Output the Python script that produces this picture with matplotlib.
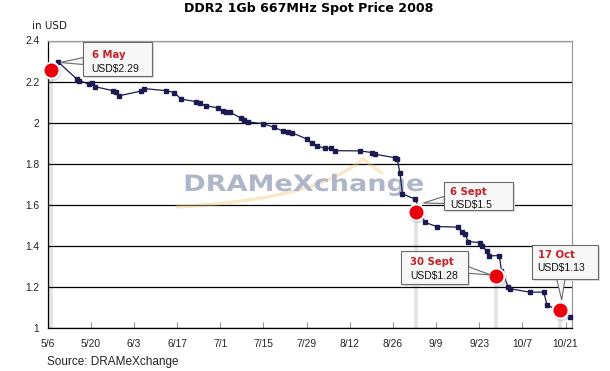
import matplotlib
matplotlib.use("Agg")
import matplotlib.pyplot as plt
from matplotlib.patches import Polygon, Rectangle, PathPatch
from matplotlib.transforms import Affine2D, offset_copy
from matplotlib.textpath import TextPath
from matplotlib.font_manager import FontProperties
from matplotlib.path import Path

# ---------------- data ----------------
title = "DDR2 1Gb 667MHz Spot Price 2008"
unit_label = "in USD"
source_label = "Source: DRAMeXchange"
watermark = "DRAMeXchange"

# days after 2008-05-06
days = [3.3, 9.4, 10.3, 13.5, 14.3, 15.2, 21.1, 22.2, 23.1, 30.3, 31.3, 38.4,
        41.1, 43.2, 48.0, 49.4, 51.2, 55.3, 56.8, 58.0, 59.1, 62.6, 63.8, 65.0,
        70.0, 73.3, 76.3, 78.0, 79.2, 84.0, 85.6, 87.3, 89.9, 92.0, 93.2, 101.3,
        105.1, 106.2, 112.6, 113.4, 114.3, 115.1, 119.2, 122.3, 126.2, 133.2,
        134.3, 135.4, 136.4, 140.2, 140.8, 142.4, 143.1, 146.5, 147.2, 149.4,
        150.1, 156.4, 160.9, 162.0, 169.4]
price = [2.297, 2.213, 2.205, 2.187, 2.192, 2.176, 2.156, 2.148, 2.131, 2.154,
         2.166, 2.156, 2.147, 2.115, 2.103, 2.095, 2.083, 2.072, 2.057, 2.052,
         2.052, 2.023, 2.012, 2.004, 1.995, 1.978, 1.960, 1.953, 1.952, 1.921,
         1.900, 1.887, 1.876, 1.876, 1.864, 1.863, 1.855, 1.847, 1.830, 1.822,
         1.754, 1.654, 1.628, 1.516, 1.495, 1.492, 1.468, 1.458, 1.422, 1.417,
         1.401, 1.377, 1.352, 1.354, 1.280, 1.203, 1.192, 1.176, 1.176, 1.114,
         1.057]

tick_days = [0, 14, 28, 42, 56, 70, 84, 98, 112, 126, 140, 154, 168]
tick_labels = ["5/6", "5/20", "6/3", "6/17", "7/1", "7/15", "7/29", "8/12",
               "8/26", "9/9", "9/23", "10/7", "10/21"]
y_ticks = [1.0, 1.2, 1.4, 1.6, 1.8, 2.0, 2.2, 2.4]
y_tick_labels = ["1", "1.2", "1.4", "1.6", "1.8", "2", "2.2", "2.4"]

callout_dates = ["6 May", "6 Sept", "30 Sept", "17 Oct"]
callout_values = ["USD$2.29", "USD$1.5", "USD$1.28", "USD$1.13"]
dot_days = [1.1, 119.5, 145.6, 166.2]
dot_price = [2.255, 1.565, 1.252, 1.087]

# ---------------- figure ----------------
W, H = 610, 371
fig = plt.figure(figsize=(W / 100, H / 100), dpi=100)
fig.patch.set_facecolor("white")
# pixel coords measured from top-left
tpx = Affine2D().scale(1, -1).translate(0, H)

L, R, T, B = 47.7, 571.7, 40.5, 328.3
ax = fig.add_axes([L / W, 1 - B / H, (R - L) / W, (B - T) / H])
ax.set_xlim(0, 170)
ax.set_ylim(1.0, 2.4)

ax.set_yticks(y_ticks)
ax.set_yticklabels(y_tick_labels)
ax.set_xticks(tick_days)
ax.set_xticklabels(tick_labels)
ax.set_axisbelow(True)
ax.yaxis.grid(True, color="black", lw=0.9)
for s in ["top", "right"]:
    ax.spines[s].set_color("#9a9a9a")
    ax.spines[s].set_linewidth(0.9)
for s in ["left", "bottom"]:
    ax.spines[s].set_color("black")
    ax.spines[s].set_linewidth(0.9)

ax.tick_params(axis="y", length=0, pad=6, labelcolor="#222222")
ax.tick_params(axis="x", direction="in", length=4, color="#999999", pad=8,
               labelcolor="#222222")
for lbl in ax.get_xticklabels() + ax.get_yticklabels():
    lbl.set_fontfamily("Liberation Sans")
    lbl.set_fontsize(7.4)

# drop lines under highlight dots
for d, p in zip(dot_days, dot_price):
    ax.plot([d, d], [1.0, p], color="#e4e4e4", lw=2.8, zorder=0.3,
            solid_capstyle="butt")

# watermark
fp = FontProperties(family="DejaVu Sans", weight="bold")
tp = TextPath((0, 0), watermark, size=20, prop=fp)
ext = tp.get_extents()
capH = TextPath((0, 0), "D", size=20, prop=fp).get_extents().height
sx = (423 - 185.7) / ext.width
sy = 16.5 / capH
wtr = Affine2D().translate(-ext.x0, 0).scale(sx, sy).translate(185.7, H - 191.0)
# swoosh
sw = Path([(176, 207), (240, 203), (320, 195), (363, 159), (383, 174)],
          [Path.MOVETO, Path.CURVE4, Path.CURVE4, Path.CURVE4, Path.LINETO])
ax.add_patch(PathPatch(sw, transform=tpx, facecolor="none", edgecolor="#f0c678",
                       lw=2.5, alpha=0.4, zorder=0.6, clip_on=False))
ax.add_patch(PathPatch(tp, transform=wtr, facecolor="#b0b6c9", edgecolor="none",
                       zorder=0.7, clip_on=False))

# price line
ax.plot(days, price, color="#1b1b52", lw=0.9, marker="s", ms=2.7,
        mfc="#1b1b52", mec="#1b1b52", zorder=3, clip_on=False)

# highlight dots
shadow_tr = offset_copy(ax.transData, fig=fig, x=1.2, y=-1.8, units="dots")
ax.plot(dot_days, dot_price, "o", ms=12.5, color="#9a9a9a", alpha=0.35,
        transform=shadow_tr, zorder=4, clip_on=False, mew=0)
ax.plot(dot_days, dot_price, "o", ms=11.5, mfc="#e8000b", mec="white",
        mew=1.4, zorder=5, clip_on=False, linestyle="none")

# callouts (pixel layout)
boxes = [(83.3, 42.3, 151.7, 76.0), (444.3, 182.0, 513.3, 210.3),
         (401.0, 250.5, 468.3, 284.3), (532.3, 245.0, 598.3, 279.0)]
tails = [[(83.3, 57.5), (60.0, 62.5), (83.3, 64.5)],
         [(444.3, 196.3), (423.5, 203.0), (444.3, 203.5)],
         [(468.3, 266.7), (491.0, 275.0), (468.3, 273.3)],
         [(556.7, 279.0), (561.7, 300.0), (565.0, 279.0)]]
text_x = [91.7, 450.0, 410.0, 537.7]
text_y1 = [55.0, 192.0, 261.7, 255.0]
text_y2 = [69.2, 205.3, 276.0, 268.3]

for i in range(4):
    x0, y0, x1, y1 = boxes[i]
    fig.patches.append(Rectangle((x0 + 2, y0 + 2), x1 - x0, y1 - y0,
                                 transform=tpx, facecolor="#dedede",
                                 edgecolor="none", zorder=6, figure=fig))
    fig.patches.append(Polygon(tails[i], closed=True, transform=tpx,
                               facecolor="#f7f7f7", edgecolor="#6a6a6a",
                               lw=0.8, zorder=7, figure=fig))
    fig.patches.append(Rectangle((x0, y0), x1 - x0, y1 - y0, transform=tpx,
                                 facecolor="#f7f7f7", edgecolor="#6a6a6a",
                                 lw=0.8, zorder=8, figure=fig))
    fig.text(text_x[i], text_y1[i], callout_dates[i], transform=tpx,
             family="DejaVu Sans", weight="bold", size=7.3, color="#c0232b",
             ha="left", va="center", zorder=9)
    fig.text(text_x[i], text_y2[i], callout_values[i], transform=tpx,
             family="Liberation Sans", size=7.5, color="#111111",
             ha="left", va="center", zorder=9)

# texts
fig.text(309, 8.5, title, transform=tpx, family="DejaVu Sans", weight="bold",
         size=9.1, color="black", ha="center", va="center")
fig.text(32, 26, unit_label, transform=tpx, family="DejaVu Sans", size=7.5,
         color="#222222", ha="left", va="center")
fig.text(46.7, 362.3, source_label, transform=tpx, family="Liberation Sans",
         size=8.5, color="#222222", ha="left", va="center")

fig.savefig("out.png", dpi=100)
